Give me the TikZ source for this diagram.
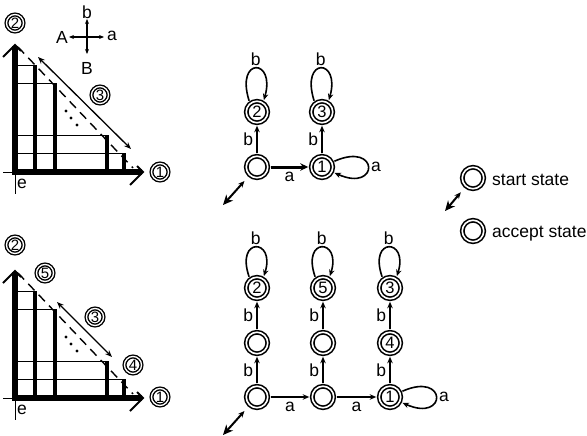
\documentclass[tikz,border=0pt]{standalone}
\usepackage{fontspec}
\setmainfont{Liberation Sans}
\usetikzlibrary{arrows.meta}
\begin{document}
\begin{tikzpicture}[x=1pt,y=-1pt,
  lab/.style={font=\fontsize{17.5}{20}\selectfont, inner sep=0pt},
  st/.style={circle, draw, double, line width=1.6pt, double distance=1.6pt, minimum size=21.5pt, inner sep=0pt, outer sep=3pt, fill=white, font=\fontsize{16.5}{18}\selectfont},
  plab/.style={circle, draw, double, line width=1.4pt, double distance=1.3pt, minimum size=17pt, inner sep=0pt, font=\fontsize{15}{16}\selectfont},
  edge/.style={line width=1.6pt, -{Stealth[length=6.5pt,width=5.5pt]}},
  thickedge/.style={line width=3pt, -{Stealth[length=8pt,width=7.5pt]}},
  startarr/.style={line width=2pt, {Stealth[length=10pt,width=9pt,inset=3pt]}-{Stealth[length=6.5pt,width=5.5pt]}, shorten >=5pt},
  axisln/.style={line width=5.5pt},
  barln/.style={line width=4.8pt},
  thinln/.style={line width=0.9pt},
  chev/.style={line width=1.9pt},
  dashln/.style={line width=1.4pt, dash pattern=on 9pt off 6pt},
  dblarr/.style={line width=1.3pt, {Stealth[length=7pt,width=5.5pt]}-{Stealth[length=7pt,width=5.5pt]}},
  comparr/.style={line width=1.3pt, -{Stealth[length=5pt,width=4pt]}},
]
\fill[white] (0,0) rectangle (587,436);
\useasboundingbox (0,0) rectangle (587,436);

% ---------- the two plots (common part) ----------
\foreach \oy in {0,226}{
  % thin grid lines
  \draw[thinln] (15,65+\oy) -- (35,65+\oy);
  \draw[thinln] (15,83+\oy) -- (55,83+\oy);
  \draw[thinln] (15,135+\oy) -- (107,135+\oy);
  \draw[thinln] (15,153+\oy) -- (124,153+\oy);
  % bars
  \draw[barln] (35,172+\oy) -- (35,65+\oy);
  \draw[barln] (55,172+\oy) -- (55,83+\oy);
  \draw[barln] (107,172+\oy) -- (107,135+\oy);
  \draw[barln] (124,172+\oy) -- (124,153+\oy);
  % axes
  \draw[axisln] (15,174.75+\oy) -- (15,46+\oy);
  \draw[axisln] (12.25,172+\oy) -- (142,172+\oy);
  \draw[thinln] (3,172+\oy) -- (15,172+\oy);
  \draw[thinln] (15,172+\oy) -- (15,194+\oy);
  \draw[chev] (3,57+\oy) -- (15,45+\oy) -- (21,51+\oy);
  \draw[chev] (130,185+\oy) -- (143,172+\oy) -- (137,166+\oy);
  \node[lab] (e\oy) at (22,184+\oy) {e};
  % dashed diagonal
  \draw[dashln] (18,47+\oy) -- (133,168+\oy);
  % dots
  \fill (66,111+\oy) circle (1.7);
  \fill (71,118+\oy) circle (1.7);
  \fill (77,125+\oy) circle (1.7);
}

% top plot specifics
\draw[dblarr] (38,57) -- (131,149);
\node[plab] (pA2) at (15,23) {2};
\node[plab] (pA3) at (100,95) {3};
\node[plab] (pA1) at (160,172) {1};
% compass
\coordinate (cc) at (87,37);
\draw[comparr] (cc) -- (87,19);
\draw[comparr] (cc) -- (87,54);
\draw[comparr] (cc) -- (69,37);
\draw[comparr] (cc) -- (104,37);
\node[lab] (cb) at (87,12) {b};
\node[lab] (cB) at (87,68) {B};
\node[lab] (cA) at (62,37) {A};
\node[lab] (ca) at (112,36) {a};

% bottom plot specifics
\draw[dblarr] (57,302) -- (112,357);
\node[plab] (pB2) at (15,245) {2};
\node[plab] (pB5) at (45,273) {5};
\node[plab] (pB3) at (95,317) {3};
\node[plab] (pB4) at (133,365) {4};
\node[plab] (pB1) at (160,397) {1};

% ---------- top automaton ----------
\node[st] (s0) at (257,167) {};
\node[st] (q1) at (322,167) {1};
\node[st] (q2) at (257,112) {2};
\node[st] (q3) at (322,112) {3};
\draw[thickedge] (s0) -- node[lab, below=4pt] {a} (q1);
\draw[edge] (s0) -- node[lab, left=3pt] {b} (q2);
\draw[edge] (q1) -- node[lab, left=3pt] {b} (q3);
\draw[edge] (q2.125) .. controls +(-14,-44) and +(12,-42) .. node[lab, pos=0.5, above=2pt] {b} (q2.60);
\draw[edge] (q3.125) .. controls +(-14,-44) and +(12,-42) .. node[lab, pos=0.5, above=2pt] {b} (q3.60);
\draw[edge] (q1.25) .. controls +(45,-20) and +(45,20) .. node[lab, pos=0.5, right=2pt] {a} (q1.-25);
\coordinate (t0) at (223,205);
\draw[startarr] (t0) -- (s0);

% ---------- bottom automaton ----------
\node[st] (b00) at (257,397) {};
\node[st] (b10) at (323,397) {};
\node[st] (b20) at (390,397) {1};
\node[st] (b01) at (257,343) {};
\node[st] (b11) at (323,343) {};
\node[st] (b21) at (390,343) {4};
\node[st] (b02) at (257,288) {2};
\node[st] (b12) at (323,288) {5};
\node[st] (b22) at (390,288) {3};
\draw[edge] (b00) -- node[lab, below=4pt] {a} (b10);
\draw[edge] (b10) -- node[lab, below=4pt] {a} (b20);
\foreach \c in {0,1,2}{
  \draw[edge] (b\c0) -- node[lab, left=3pt] {b} (b\c1);
  \draw[edge] (b\c1) -- node[lab, left=3pt] {b} (b\c2);
  \draw[edge] (b\c2.125) .. controls +(-14,-40) and +(12,-38) .. node[lab, pos=0.5, above=2pt] {b} (b\c2.60);
}
\draw[edge] (b20.25) .. controls +(45,-20) and +(45,20) .. node[lab, pos=0.5, right=2pt] {a} (b20.-25);
\coordinate (t1) at (223,435);
\draw[startarr] (t1) -- (b00);

% ---------- legend ----------
\node[st] (ls) at (473,178) {};
\node[lab, anchor=base west] (lst) at (492,185) {start state};
\coordinate (t2) at (445,211);
\draw[startarr] (t2) -- (ls);
\node[st] (la) at (473,231) {};
\node[lab, anchor=base west] (lat) at (492,237) {accept state};
\end{tikzpicture}
\end{document}
